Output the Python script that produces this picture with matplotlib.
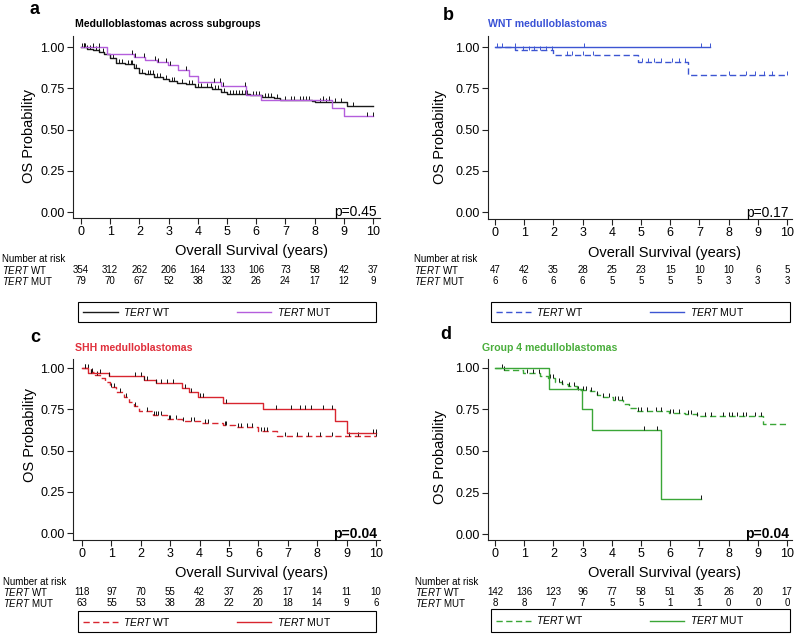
import matplotlib
matplotlib.use("Agg")
import matplotlib.pyplot as plt
import matplotlib.transforms as mtransforms
from matplotlib.path import Path
from matplotlib.patches import Rectangle
import numpy as np

plt.rcParams['font.family'] = ['Liberation Sans', 'DejaVu Sans']
plt.rcParams['mathtext.fontset'] = 'custom'
plt.rcParams['mathtext.rm'] = 'Liberation Sans'
plt.rcParams['mathtext.it'] = 'Liberation Sans:italic'

W, H = 798, 635

# ---------------- data ----------------
years = list(range(0, 11))

# a: all medulloblastomas
a_wt_t = [0, 0.2, 0.4, 0.6, 0.8, 1.0, 1.2, 1.5, 1.8, 2.0, 2.2, 2.5, 2.8, 3.0, 3.3, 3.6, 3.9,
          4.2, 4.5, 4.8, 5.0, 5.8, 6.2, 6.6, 6.8, 7.9, 8.0, 9.1]
a_wt_s = [1.0, 0.99, 0.98, 0.97, 0.955, 0.935, 0.905, 0.895, 0.875, 0.845, 0.835, 0.82, 0.805,
          0.795, 0.785, 0.775, 0.76, 0.755, 0.745, 0.73, 0.715, 0.71, 0.70, 0.69, 0.68, 0.675,
          0.665, 0.645]
a_wt_end = 10.0
a_wt_cens = [0.05, 0.1, 0.15, 0.22, 0.3, 0.5, 0.6, 0.75, 0.9, 1.1, 1.3, 1.4, 1.6, 1.7, 1.75,
             1.9, 2.1, 2.3, 2.35, 2.45, 2.6, 2.7, 2.9, 3.1, 3.2, 3.45, 3.7, 3.8, 4.0, 4.1, 4.3,
             4.45, 4.6, 4.7, 4.9, 5.1, 5.2, 5.3, 5.4, 5.5, 5.6, 5.7, 5.9, 6.0, 6.1, 6.3, 6.4,
             6.5, 6.7, 7.0, 7.2, 7.3, 7.5, 7.6, 7.7, 7.8, 8.2, 8.4, 8.7, 8.9, 9.3]
a_mut_t = [0, 0.9, 1.82, 2.2, 2.6, 2.98, 3.32, 3.7, 4.0, 4.8, 5.65, 6.15, 8.6, 9.0]
a_mut_s = [1.0, 0.96, 0.94, 0.923, 0.907, 0.89, 0.863, 0.822, 0.79, 0.765, 0.711, 0.68, 0.63, 0.58]
a_mut_end = 10.0
a_mut_cens = [0.1, 0.4, 0.6, 1.75, 1.85, 2.15, 2.55, 2.65, 2.9, 3.05, 3.6, 4.55, 4.75, 4.85,
              5.6, 8.3, 8.5, 9.8, 10.0]
a_risk_wt = [354, 312, 262, 206, 164, 133, 106, 73, 58, 42, 37]
a_risk_mut = [79, 70, 67, 52, 38, 32, 26, 24, 17, 12, 9]

# b: WNT
b_wt_t = [0, 0.7, 2.0, 4.9, 6.6]
b_wt_s = [1.0, 0.98, 0.953, 0.912, 0.83]
b_wt_end = 10.0
b_wt_cens = [0.25, 0.95, 1.15, 1.35, 1.55, 1.75, 1.95, 2.45, 2.65, 3.0, 3.35, 5.05, 5.25,
             5.45, 5.7, 6.05, 6.3, 6.5, 8.0, 8.6, 8.9, 9.2, 9.5, 10.0]
b_mut_t = [0]
b_mut_s = [1.0]
b_mut_end = 7.36
b_mut_cens = [0.06, 0.68, 3.05, 7.05, 7.36]
b_risk_wt = [47, 42, 35, 28, 25, 23, 15, 10, 10, 6, 5]
b_risk_mut = [6, 6, 6, 6, 5, 5, 5, 5, 3, 3, 3]

# c: SHH
c_wt_t = [0, 0.3, 0.45, 0.6, 0.77, 0.94, 1.16, 1.44, 1.6, 1.75, 1.95, 2.4, 2.9, 3.4, 4.0,
          4.8, 5.2, 6.0, 6.65]
c_wt_s = [1.0, 0.975, 0.96, 0.94, 0.915, 0.885, 0.855, 0.826, 0.796, 0.77, 0.737, 0.713,
          0.693, 0.678, 0.667, 0.656, 0.645, 0.62, 0.586]
c_wt_end = 10.0
c_wt_cens = [0.1, 0.2, 0.35, 0.5, 1.0, 1.1, 1.3, 1.5, 1.8, 2.2, 2.45, 2.5, 2.6, 2.7, 2.95,
             3.0, 3.2, 3.45, 3.7, 3.8, 4.2, 4.3, 4.85, 4.9, 5.3, 5.4, 5.6, 5.8, 6.1, 6.2,
             6.3, 6.9, 7.3, 7.7, 8.1, 8.5, 9.1, 9.4, 10.0]
c_mut_t = [0, 0.2, 0.9, 2.1, 2.5, 3.4, 3.65, 3.95, 4.8, 6.15, 8.6, 9.0]
c_mut_s = [1.0, 0.97, 0.95, 0.93, 0.91, 0.882, 0.853, 0.823, 0.789, 0.749, 0.68, 0.605]
c_mut_end = 10.0
c_mut_cens = [0.1, 0.3, 0.6, 0.9, 1.8, 2.0, 2.1, 2.2, 2.5, 2.7, 2.9, 3.1, 3.5, 3.7, 4.0,
              4.1, 4.9, 6.6, 7.1, 7.4, 7.6, 7.8, 8.2, 8.5, 9.9, 10.0]
c_risk_wt = [118, 97, 70, 55, 42, 37, 26, 17, 14, 11, 10]
c_risk_mut = [63, 55, 53, 38, 28, 22, 20, 18, 14, 9, 6]

# d: Group 4
d_wt_t = [0, 0.3, 0.97, 1.54, 1.83, 2.05, 2.28, 2.5, 2.8, 3.25, 3.48, 3.7, 4.04, 4.38,
          4.6, 4.83, 5.97, 6.5, 6.9, 9.17]
d_wt_s = [1.0, 0.99, 0.97, 0.95, 0.94, 0.915, 0.905, 0.89, 0.87, 0.86, 0.84, 0.826, 0.81,
          0.78, 0.76, 0.74, 0.73, 0.72, 0.71, 0.66]
d_wt_end = 10.0
d_wt_cens = [0.25, 0.3, 1.1, 1.3, 1.5, 1.85, 1.9, 2.0, 2.2, 2.3, 2.55, 2.7, 2.85, 3.0, 3.1,
             3.3, 3.5, 3.7, 3.9, 4.1, 4.2, 4.35, 4.9, 5.0, 5.2, 5.5, 5.7, 6.0, 6.1, 6.3,
             6.6, 6.7, 6.9, 7.2, 7.4, 7.8, 8.0, 8.1, 8.3, 8.5, 8.6, 8.9, 9.1]
d_mut_t = [0, 1.86, 2.97, 3.31, 5.68]
d_mut_s = [1.0, 0.875, 0.75, 0.625, 0.208]
d_mut_end = 7.05
d_mut_cens = [5.1, 5.55, 7.05]
d_risk_wt = [142, 136, 123, 96, 77, 58, 51, 35, 26, 20, 17]
d_risk_mut = [8, 8, 7, 7, 5, 5, 1, 1, 0, 0, 0]

# ---------------- drawing ----------------
fig = plt.figure(figsize=(W / 100, H / 100), dpi=100)
tick_mark = Path([(0, 0), (0, 1)], [Path.MOVETO, Path.LINETO])


def fx(px):
    return px / W


def fy(py):
    return 1 - py / H


def km(ax, t, s, end, cens, color, ls, cens_color):
    tt = list(t) + [end]
    ss = list(s) + [s[-1]]
    line, = ax.step(tt, ss, where='post', color=color, lw=1.0, linestyle=ls)
    idx = np.searchsorted(t, cens, side='right') - 1
    cy = np.array(s)[idx]
    ax.plot(cens, cy, linestyle='none', marker=tick_mark, markersize=6,
            markeredgecolor=cens_color, markeredgewidth=0.7)
    return line


panels = [
    dict(box=(73, 36, 380, 218), xlim=(-0.274, 10.24), ylim=(-0.036, 1.067),
         letter='a', lpos=(30, 10), title='Medulloblastomas across subgroups', tpos=(75, 24),
         tcolor='black', wt=(a_wt_t, a_wt_s, a_wt_end, a_wt_cens),
         mut=(a_mut_t, a_mut_s, a_mut_end, a_mut_cens), c_wt='#1a1a1a', c_mut='#b45edc',
         ls_wt='-', cens='#111111', p='p=0.45', pbold=False, ylab=(-0.12, 0.45),
         risk=(a_risk_wt, a_risk_mut), rx=2, ry=(259, 270, 281), leg=(78, 302, 376, 322)),
    dict(box=(488, 36, 792, 219), xlim=(-0.24, 10.17), ylim=(-0.042, 1.067),
         letter='b', lpos=(443, 15), title='WNT medulloblastomas', tpos=(488, 24),
         tcolor='#3a52d6', wt=(b_wt_t, b_wt_s, b_wt_end, b_wt_cens),
         mut=(b_mut_t, b_mut_s, b_mut_end, b_mut_cens), c_wt='#3c55d2', c_mut='#3c55d2',
         ls_wt=(0, (4.5, 2.5)), cens='#3c55d2', p='p=0.17', pbold=False, ylab=(-0.134, 0.45),
         risk=(b_risk_wt, b_risk_mut), rx=414, ry=(259, 270, 281), leg=(491, 302, 790, 322)),
    dict(box=(73, 359, 380, 540), xlim=(-0.31, 10.14), ylim=(-0.042, 1.055),
         letter='c', lpos=(30, 338), title='SHH medulloblastomas', tpos=(75, 348),
         tcolor='#e0303c', wt=(c_wt_t, c_wt_s, c_wt_end, c_wt_cens),
         mut=(c_mut_t, c_mut_s, c_mut_end, c_mut_cens), c_wt='#d8252f', c_mut='#d8252f',
         ls_wt=(0, (4.5, 2.5)), cens='#111111', p='p=0.04', pbold=True, ylab=(-0.117, 0.58),
         risk=(c_risk_wt, c_risk_mut), rx=3, ry=(582, 592, 603), leg=(78, 611, 376, 632)),
    dict(box=(488, 359, 792, 540), xlim=(-0.24, 10.17), ylim=(-0.036, 1.054),
         letter='d', lpos=(440, 335), title='Group 4 medulloblastomas', tpos=(482, 348),
         tcolor='#4aae3c', wt=(d_wt_t, d_wt_s, d_wt_end, d_wt_cens),
         mut=(d_mut_t, d_mut_s, d_mut_end, d_mut_cens), c_wt='#3aa637', c_mut='#3aa637',
         ls_wt=(0, (4.5, 2.5)), cens='#111111', p='p=0.04', pbold=True, ylab=(-0.134, 0.46),
         risk=(d_risk_wt, d_risk_mut), rx=415, ry=(582, 592, 603), leg=(491, 609, 790, 632)),
]

for P in panels:
    x0, y0, x1, y1 = P['box']
    ax = fig.add_axes([fx(x0), fy(y1), (x1 - x0) / W, (y1 - y0) / H])
    ax.set_xlim(*P['xlim'])
    ax.set_ylim(*P['ylim'])
    for sp in ['top', 'right']:
        ax.spines[sp].set_visible(False)
    for sp in ['left', 'bottom']:
        ax.spines[sp].set_linewidth(0.8)
        ax.spines[sp].set_color('#222222')
    ax.set_xticks(years)
    ax.set_yticks([0, 0.25, 0.5, 0.75, 1.0])
    ax.set_yticklabels(['%.2f' % v for v in [0, 0.25, 0.5, 0.75, 1.0]])
    ax.tick_params(labelsize=9, length=4, width=0.8, pad=2, color='#222222')
    ax.set_xlabel('Overall Survival (years)', fontsize=10.5)
    ax.xaxis.set_label_coords(0.58, -0.145)
    ax.set_ylabel('OS Probability', fontsize=10.5)
    ax.yaxis.set_label_coords(*P['ylab'])

    l_wt = km(ax, *P['wt'], P['c_wt'], P['ls_wt'], P['cens'])
    l_mut = km(ax, *P['mut'], P['c_mut'], '-', P['cens'])
    l_wt.set_label(r'$\it{TERT}$ WT')
    l_mut.set_label(r'$\it{TERT}$ MUT')

    ax.text(0.99, 0.035, P['p'], transform=ax.transAxes, ha='right', va='center',
            fontsize=10, fontweight='bold' if P['pbold'] else 'normal')

    fig.text(fx(P['lpos'][0]), fy(P['lpos'][1]), P['letter'], fontsize=13,
             fontweight='bold', va='center', ha='left')
    fig.text(fx(P['tpos'][0]), fy(P['tpos'][1]), P['title'], fontsize=7.6,
             fontweight='bold', color=P['tcolor'], va='center', ha='left')

    # number at risk table
    ry0, ry1, ry2 = P['ry']
    fig.text(fx(P['rx']), fy(ry0), 'Number at risk', fontsize=7, va='center', ha='left')
    fig.text(fx(P['rx']), fy(ry1), r'$\it{TERT}$ WT', fontsize=7, va='center', ha='left')
    fig.text(fx(P['rx']), fy(ry2), r'$\it{TERT}$ MUT', fontsize=7, va='center', ha='left')
    trans = mtransforms.blended_transform_factory(ax.transData, fig.transFigure)
    for yr, nw, nm in zip(years, P['risk'][0], P['risk'][1]):
        ax.text(yr, fy(ry1), str(nw), transform=trans, fontsize=7, ha='center',
                va='center', clip_on=False)
        ax.text(yr, fy(ry2), str(nm), transform=trans, fontsize=7, ha='center',
                va='center', clip_on=False)

    # legend box
    lx0, ly0, lx1, ly1 = P['leg']
    fig.patches.append(Rectangle((fx(lx0), fy(ly1)), (lx1 - lx0) / W, (ly1 - ly0) / H,
                                 transform=fig.transFigure, fill=False, edgecolor='black',
                                 linewidth=0.8))
    fig.legend(handles=[l_wt, l_mut], loc='center left',
               bbox_to_anchor=(fx(lx0 + 5), fy((ly0 + ly1) / 2)), ncol=2, frameon=False,
               fontsize=7.5, handlelength=3.35, handletextpad=0.5, columnspacing=6.3,
               borderpad=0, borderaxespad=0)

fig.savefig('out.png', dpi=100)
